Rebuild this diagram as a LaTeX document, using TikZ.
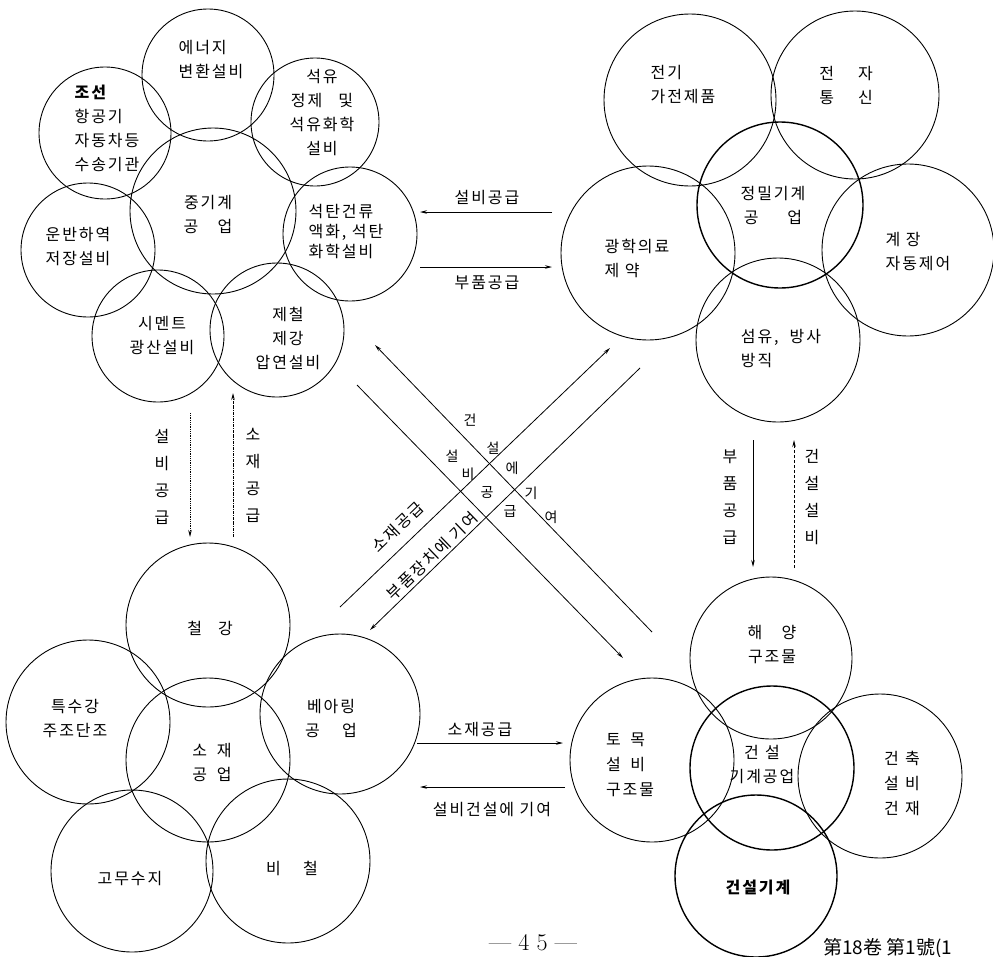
\documentclass[tikz,border=0pt]{standalone}
\usepackage{fontspec}
\newfontfamily\kr{Noto Sans CJK KR}[LetterSpace=12]
\newfontfamily\krp{Noto Sans CJK KR}
\newfontfamily\tc{Noto Sans CJK TC}
\usetikzlibrary{arrows.meta}
\begin{document}
\begin{tikzpicture}[x=1pt,y=-1pt,
  ring/.style={draw, circle, line width=0.9pt, inner sep=0pt},
  thickring/.style={ring, line width=1.4pt},
  lbl/.style={font=\kr\fontsize{16}{24}\selectfont, inner sep=0pt, align=center},
  lbll/.style={lbl, align=left},
  chr/.style={font=\krp\fontsize{14}{14}\selectfont, inner sep=0pt},
  vlbl/.style={font=\kr\fontsize{16}{27}\selectfont, inner sep=0pt, align=center},
  arr/.style={line width=0.8pt, -{Stealth[length=7pt,width=3.5pt]}},
  ]
\useasboundingbox (0,0) rectangle (993,956);

% ---------- top-left cluster ----------
\node[ring, minimum size=132pt] (energy) at (208,75) {};
\node[ring, minimum size=128pt] (petro) at (315,122) {};
\node[ring, minimum size=132pt] (ship) at (105,133) {};
\node[ring, minimum size=166pt] (heavy) at (213,211) {};
\node[ring, minimum size=134pt] (coal) at (350,234) {};
\node[ring, minimum size=134pt] (trans) at (88,250) {};
\node[ring, minimum size=132pt] (cement) at (158,336) {};
\node[ring, minimum size=134pt] (steel) at (277,330) {};

\node[lbll] (t_energy) at (211,60) {에너지\\변환설비};
\node[lbl] (t_petro) at (322,113) {석유\\정제\quad 및\\석유화학\\설비};
\node[lbll] (t_ship) at (107,128) {\textbf{조선}\\항공기\\자동차등\\수송기관};
\node[lbl] (t_heavy) at (208,214) {중기계\\공\hspace{1.2em}업};
\node[lbll, font=\kr\fontsize{16}{20}\selectfont] (t_coal) at (346,232) {석탄건류\\액화, 석탄\\화학설비};
\node[lbll] (t_trans) at (78,247) {운반하역\\저장설비};
\node[lbl] (t_cement) at (162,336) {시멘트\\광산설비};
\node[lbl] (t_steel) at (288,338) {제철\\제강\\압연설비};

% ---------- top-right cluster ----------
\node[ring, minimum size=172pt] (elec) at (690,100) {};
\node[ring, minimum size=168pt] (tele) at (855,95) {};
\node[thickring, minimum size=166pt] (prec) at (780,205) {};
\node[ring, minimum size=174pt] (optic) at (648,253) {};
\node[ring, minimum size=172pt] (instr) at (908,250) {};
\node[ring, minimum size=164pt] (fiber) at (778,340) {};

\node[lbll] (t_elec) at (683,85) {전기\\가전제품};
\node[lbl] (t_tele) at (846,85) {전\hspace{1.5em}자\\통\hspace{1.5em}신};
\node[lbl] (t_prec) at (773,205) {정밀기계\\공\hspace{1.8em}업};
\node[lbll] (t_optic) at (637,258) {광학의료\\제 약};
\node[lbll] (t_instr) at (918,252) {계 장\\자동제어};
\node[lbll] (t_fiber) at (781,349) {섬유,\ \ 방사\\방직};

% ---------- bottom-left cluster ----------
\node[ring, minimum size=164pt] (steel2) at (208,625) {};
\node[ring, minimum size=164pt] (special) at (88,722) {};
\node[ring, minimum size=160pt] (bearing) at (340,714) {};
\node[ring, minimum size=164pt] (mat) at (208,760) {};
\node[ring, minimum size=162pt] (rubber) at (132,871) {};
\node[ring, minimum size=164pt] (nonfer) at (288,861) {};

\node[lbl] (t_steel2) at (210,628) {철\hspace{1em}강};
\node[lbl] (t_special) at (75,718) {특수강\\주조단조};
\node[lbl] (t_bearing) at (331,718) {베아링\\공\hspace{1.4em}업};
\node[lbl] (t_mat) at (212,762) {소\hspace{0.6em}재\\공\hspace{0.6em}업};
\node[lbl] (t_rubber) at (130,878) {고무수지};
\node[lbl] (t_nonfer) at (292,868) {비\hspace{1.4em}철};

% ---------- bottom-right cluster ----------
\node[ring, minimum size=162pt] (ocean) at (771,658) {};
\node[ring, minimum size=164pt] (civil) at (652,760) {};
\node[thickring, minimum size=164pt] (cmach) at (772,768) {};
\node[ring, minimum size=164pt] (arch) at (880,776) {};
\node[thickring, minimum size=162pt] (cequip) at (756,876) {};

\node[lbl] (t_ocean) at (772,645) {해\hspace{1.2em}양\\구조물};
\node[lbll, font=\kr\fontsize{16}{25}\selectfont] (t_civil) at (630,765) {토\hspace{0.6em}목\\설\hspace{0.6em}비\\구조물};
\node[lbl] (t_cmach) at (762,764) {건\hspace{0.4em}설\\기계공업};
\node[lbl, font=\kr\fontsize{16}{25}\selectfont] (t_arch) at (902,783) {건\hspace{0.4em}축\\설\hspace{0.4em}비\\건\hspace{0.4em}재};
\node[lbl, font=\kr\bfseries\fontsize{16}{24}\selectfont] (t_cequip) at (758,887) {건설기계};

% ---------- vertical connectors ----------
\coordinate (v1a) at (190,413); \coordinate (v1b) at (190,537);
\coordinate (v2a) at (233,537); \coordinate (v2b) at (233,393);
\draw[arr, densely dotted] (v1a) -- (v1b);
\draw[arr, densely dashdotted] (v2a) -- (v2b);
\node[vlbl] (l_v1) at (162,477) {설\\비\\공\\급};
\node[vlbl] (l_v2) at (253,475) {소\\재\\공\\급};

\coordinate (v3a) at (753,440); \coordinate (v3b) at (753,567);
\coordinate (v4a) at (794,568); \coordinate (v4b) at (794,440);
\draw[arr] (v3a) -- (v3b);
\draw[arr, densely dashed] (v4a) -- (v4b);
\node[vlbl] (l_v3) at (730,497) {부\\품\\공\\급};
\node[vlbl] (l_v4) at (812,497) {건\\설\\설\\비};

% ---------- top horizontal connectors ----------
\coordinate (h1a) at (552,212); \coordinate (h1b) at (420,212);
\coordinate (h2a) at (420,267); \coordinate (h2b) at (552,267);
\draw[arr] (h1a) -- (h1b);
\draw[arr] (h2a) -- (h2b);
\node[lbl] (l_h1) at (487,198) {설비공급};
\node[lbl] (l_h2) at (487,283) {부품공급};

% ---------- bottom horizontal connectors ----------
\coordinate (h3a) at (417,743); \coordinate (h3b) at (563,743);
\coordinate (h4a) at (565,787); \coordinate (h4b) at (420,787);
\draw[arr] (h3a) -- (h3b);
\draw[arr] (h4a) -- (h4b);
\node[lbl] (l_h3) at (480,729) {소재공급};
\node[lbl] (l_h4) at (492,810) {설비건설에 기여};

% ---------- crossing connectors ----------
\coordinate (p1a) at (340,607); \coordinate (p1b) at (610,348);
\coordinate (p2a) at (640,368); \coordinate (p2b) at (370,630);
\coordinate (q1a) at (652,632); \coordinate (q1b) at (375,345);
\coordinate (q2a) at (357,385); \coordinate (q2b) at (623,658);
\draw[arr] (p1a) -- (p1b);
\draw[arr] (p2a) -- (p2b);
\draw[arr] (q1a) -- (q1b);
\draw[arr] (q2a) -- (q2b);

\node[lbl, rotate=44] (l_p1) at (398,527) {소재공급};
\node[lbl, rotate=44] (l_p2) at (432,556) {부품장치에 기여};

\node[chr] (q1c1) at (470,420) {건};
\node[chr] (q1c2) at (493,448) {설};
\node[chr] (q1c3) at (512,468) {에};
\node[chr] (q1c4) at (531,493) {기};
\node[chr] (q1c5) at (551,517) {여};
\node[chr] (q2c1) at (452,456) {설};
\node[chr] (q2c2) at (468,474) {비};
\node[chr] (q2c3) at (487,493) {공};
\node[chr] (q2c4) at (510,511) {급};

% ---------- footer ----------
\node[font=\fontsize{24}{28}\selectfont, inner sep=0pt] (page) at (533,943) {---\ 4\ 5\ ---};
\node[font=\tc\fontsize{19}{22}\selectfont, inner sep=0pt, anchor=west] (jrnl) at (823,948) {第18卷 第1號(1};
\end{tikzpicture}
\end{document}
